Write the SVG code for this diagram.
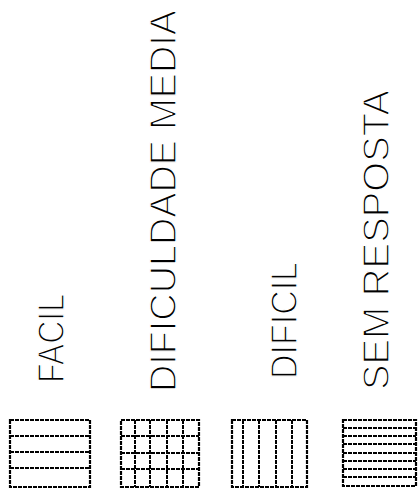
<svg xmlns="http://www.w3.org/2000/svg" width="418" height="492" viewBox="0 0 418 492">
<style>
.bg{fill:#fff}
.lbl{font-family:"Liberation Sans",Arial,sans-serif;font-size:37px;fill:#000;stroke:#fff;stroke-width:1.4px;font-weight:normal}
.box{fill:none;stroke:#000;stroke-width:2.2;stroke-dasharray:4 1}
.h{stroke:#000;stroke-width:2;stroke-dasharray:4 1;fill:none}
</style>
<rect class="bg" x="0" y="0" width="418" height="492"/>
<g id="facil">
<text class="lbl" transform="translate(64,383) rotate(-90)" textLength="89" lengthAdjust="spacingAndGlyphs">FACIL</text>
<rect class="box" x="10" y="420" width="80" height="67"/>
<path class="h" d="M10 436H90M10 452H90M10 468H90"/>
</g>
<g id="dificuldade-media">
<text class="lbl" transform="translate(176,392) rotate(-90)" textLength="382" lengthAdjust="spacingAndGlyphs">DIFICULDADE MEDIA</text>
<rect class="box" x="121" y="420" width="78" height="67"/>
<path class="h" d="M121 436H199M121 453H199M121 469H199M135 420V487M150 420V487M167 420V487M183 420V487"/>
</g>
<g id="dificil">
<text class="lbl" transform="translate(297,379) rotate(-90)" textLength="117" lengthAdjust="spacingAndGlyphs">DIFICIL</text>
<rect class="box" x="232" y="420" width="75" height="67"/>
<path class="h" d="M243 420V487M259 420V487M276 420V487M292 420V487"/>
</g>
<g id="sem-resposta">
<text class="lbl" transform="translate(389,390) rotate(-90)" textLength="300" lengthAdjust="spacingAndGlyphs">SEM RESPOSTA</text>
<rect class="box" x="343" y="420" width="73" height="66"/>
<path class="h" d="M343 428H416M343 436H416M343 444H416M343 453H416M343 461H416M343 469H416M343 477H416"/>
</g>
</svg>
